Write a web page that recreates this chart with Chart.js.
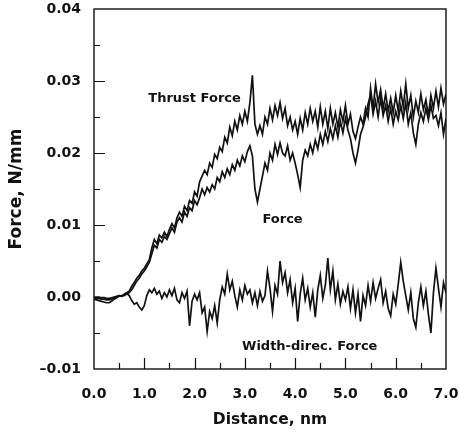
<!DOCTYPE html>
<html>
<head>
<meta charset="utf-8">
<script src="https://cdn.jsdelivr.net/npm/chart.js@4.4.1/dist/chart.umd.min.js"></script>
<style>
  html, body { margin: 0; padding: 0; background: #fff; }
  #wrap { width: 459px; height: 432px; position: relative; }
</style>
</head>
<body>
<div id="wrap"><canvas id="forceChart"></canvas></div>
<script>
// distance, nm (sampled every 0.05)
const distance = [
  0.00, 0.05, 0.10, 0.15, 0.20, 0.25, 0.30, 0.35, 0.40, 0.45,
  0.50, 0.55, 0.60, 0.65, 0.70, 0.75, 0.80, 0.85, 0.90, 0.95,
  1.00, 1.05, 1.10, 1.15, 1.20, 1.25, 1.30, 1.35, 1.40, 1.45,
  1.50, 1.55, 1.60, 1.65, 1.70, 1.75, 1.80, 1.85, 1.90, 1.95,
  2.00, 2.05, 2.10, 2.15, 2.20, 2.25, 2.30, 2.35, 2.40, 2.45,
  2.50, 2.55, 2.60, 2.65, 2.70, 2.75, 2.80, 2.85, 2.90, 2.95,
  3.00, 3.05, 3.10, 3.15, 3.20, 3.25, 3.30, 3.35, 3.40, 3.45,
  3.50, 3.55, 3.60, 3.65, 3.70, 3.75, 3.80, 3.85, 3.90, 3.95,
  4.00, 4.05, 4.10, 4.15, 4.20, 4.25, 4.30, 4.35, 4.40, 4.45,
  4.50, 4.55, 4.60, 4.65, 4.70, 4.75, 4.80, 4.85, 4.90, 4.95,
  5.00, 5.05, 5.10, 5.15, 5.20, 5.25, 5.30, 5.35, 5.40, 5.45,
  5.50, 5.55, 5.60, 5.65, 5.70, 5.75, 5.80, 5.85, 5.90, 5.95,
  6.00, 6.05, 6.10, 6.15, 6.20, 6.25, 6.30, 6.35, 6.40, 6.45,
  6.50, 6.55, 6.60, 6.65, 6.70, 6.75, 6.80, 6.85, 6.90, 6.95,
  7.00
];

const thrustForce = [
  -0.0001, -0.0002, -0.0002, -0.0003, -0.0003, -0.0004, -0.0004, -0.0003, -0.0001, 0.0000,
  0.0002, 0.0001, 0.0004, 0.0006, 0.0008, 0.0015, 0.0020, 0.0026, 0.0030, 0.0036,
  0.0040, 0.0046, 0.0052, 0.0068, 0.0080, 0.0074, 0.0086, 0.0082, 0.0090, 0.0084,
  0.0094, 0.0102, 0.0096, 0.0110, 0.0118, 0.0112, 0.0126, 0.0120, 0.0134, 0.0130,
  0.0146, 0.0140, 0.0160, 0.0168, 0.0176, 0.0170, 0.0186, 0.0180, 0.0198, 0.0192,
  0.0208, 0.0202, 0.0222, 0.0214, 0.0236, 0.0224, 0.0244, 0.0232, 0.0252, 0.0240,
  0.0258, 0.0244, 0.0270, 0.0308, 0.0240, 0.0226, 0.0238, 0.0226, 0.0250, 0.0240,
  0.0262, 0.0246, 0.0266, 0.0252, 0.0270, 0.0248, 0.0262, 0.0238, 0.0250, 0.0232,
  0.0244, 0.0226, 0.0248, 0.0232, 0.0256, 0.0240, 0.0262, 0.0244, 0.0258, 0.0236,
  0.0264, 0.0240, 0.0258, 0.0234, 0.0262, 0.0240, 0.0256, 0.0236, 0.0260, 0.0244,
  0.0266, 0.0240, 0.0254, 0.0230, 0.0220, 0.0236, 0.0250, 0.0240, 0.0262, 0.0250,
  0.0290, 0.0262, 0.0296, 0.0270, 0.0288, 0.0262, 0.0282, 0.0258, 0.0276, 0.0256,
  0.0280, 0.0258, 0.0286, 0.0264, 0.0296, 0.0262, 0.0280, 0.0250, 0.0272, 0.0256,
  0.0282, 0.0260, 0.0274, 0.0252, 0.0280, 0.0262, 0.0286, 0.0264, 0.0290, 0.0268,
  0.0282
];

const force = [
  -0.0003, -0.0004, -0.0005, -0.0006, -0.0007, -0.0008, -0.0008, -0.0006, -0.0003, -0.0001,
  0.0001, 0.0002, 0.0002, 0.0004, 0.0006, 0.0010, 0.0016, 0.0022, 0.0026, 0.0032,
  0.0036, 0.0042, 0.0048, 0.0060, 0.0072, 0.0068, 0.0080, 0.0076, 0.0084, 0.0080,
  0.0088, 0.0096, 0.0090, 0.0104, 0.0110, 0.0104, 0.0118, 0.0112, 0.0124, 0.0120,
  0.0134, 0.0128, 0.0138, 0.0150, 0.0142, 0.0152, 0.0146, 0.0156, 0.0150, 0.0166,
  0.0160, 0.0174, 0.0166, 0.0178, 0.0170, 0.0184, 0.0176, 0.0190, 0.0182, 0.0196,
  0.0188, 0.0202, 0.0210, 0.0196, 0.0150, 0.0132, 0.0150, 0.0168, 0.0186, 0.0176,
  0.0200, 0.0190, 0.0212, 0.0198, 0.0214, 0.0200, 0.0196, 0.0210, 0.0190, 0.0200,
  0.0186, 0.0170, 0.0152, 0.0190, 0.0204, 0.0196, 0.0212, 0.0200, 0.0218, 0.0206,
  0.0226, 0.0212, 0.0230, 0.0216, 0.0234, 0.0220, 0.0238, 0.0222, 0.0244, 0.0228,
  0.0248, 0.0232, 0.0220, 0.0200, 0.0186, 0.0204, 0.0226, 0.0236, 0.0250, 0.0268,
  0.0280, 0.0254, 0.0272, 0.0250, 0.0276, 0.0252, 0.0266, 0.0244, 0.0262, 0.0240,
  0.0258, 0.0246, 0.0266, 0.0248, 0.0270, 0.0240, 0.0256, 0.0228, 0.0212, 0.0240,
  0.0256, 0.0244, 0.0262, 0.0246, 0.0266, 0.0248, 0.0252, 0.0238, 0.0256, 0.0226,
  0.0248
];

const widthForce = [
  0.0000, 0.0000, 0.0000, -0.0001, -0.0001, -0.0002, -0.0002, -0.0001, 0.0000, 0.0001,
  0.0002, 0.0001, 0.0003, 0.0005, 0.0002, -0.0005, -0.0010, -0.0008, -0.0014, -0.0018,
  -0.0012, 0.0002, 0.0010, 0.0006, 0.0012, 0.0004, 0.0008, -0.0002, 0.0006, 0.0000,
  0.0010, 0.0002, 0.0012, -0.0004, -0.0008, 0.0006, -0.0002, 0.0008, -0.0040, -0.0006,
  0.0004, -0.0004, 0.0006, -0.0022, -0.0014, -0.0048, -0.0020, -0.0030, -0.0012, -0.0036,
  -0.0004, 0.0014, 0.0004, 0.0032, 0.0010, 0.0022, 0.0002, -0.0014, 0.0010, -0.0004,
  0.0016, 0.0004, 0.0010, -0.0008, 0.0006, -0.0012, 0.0008, -0.0006, 0.0002, 0.0036,
  0.0012, -0.0020, 0.0016, 0.0004, 0.0050, 0.0020, 0.0034, 0.0006, 0.0024, -0.0008,
  0.0012, -0.0034, 0.0004, 0.0026, -0.0004, 0.0012, -0.0014, 0.0006, -0.0028, 0.0010,
  0.0030, -0.0002, 0.0016, 0.0054, 0.0010, 0.0036, -0.0004, 0.0018, -0.0010, 0.0008,
  -0.0004, 0.0014, -0.0016, 0.0010, -0.0022, 0.0004, -0.0034, 0.0002, -0.0012, 0.0016,
  -0.0006, 0.0020, -0.0002, 0.0012, 0.0024, -0.0008, 0.0008, -0.0016, -0.0026, 0.0004,
  -0.0010, 0.0018, 0.0048, 0.0022, 0.0002, -0.0018, 0.0006, -0.0030, -0.0042, -0.0008,
  0.0014, -0.0012, 0.0008, -0.0024, -0.0050, 0.0006, 0.0040, 0.0012, -0.0014, 0.0020,
  0.0006
];

// curve labels, placed in data coordinates
const curveLabels = [
  { text: "Thrust Force", x: 2.0, y: 0.0276 },
  { text: "Force", x: 3.75, y: 0.0107 },
  { text: "Width-direc. Force", x: 4.29, y: -0.0069 },
];

const FONT = "'DejaVu Sans', Verdana, sans-serif";
const INK = "#111";

function toPoints(ys) {
    return distance.map((d, i) => ({ x: d, y: ys[i] }));
}

// frame, inward major/minor ticks and curve labels
const framePlugin = {
    id: "frame",
    afterDatasetsDraw(chart) {
        const { ctx, chartArea: a, scales: { x, y } } = chart;
        ctx.save();
        ctx.strokeStyle = INK;
        ctx.lineWidth = 1.4;
        ctx.strokeRect(a.left, a.top, a.right - a.left, a.bottom - a.top);

        ctx.lineWidth = 1.2;
        ctx.beginPath();
        const xs = x.ticks.map(t => t.value);
        xs.forEach((v, i) => {
            const px = Math.round(x.getPixelForValue(v)) + 0.5;
            if (i > 0 && i < xs.length - 1) {
                ctx.moveTo(px, a.bottom);
                ctx.lineTo(px, a.bottom - 11);
            }
            if (i < xs.length - 1) {
                const pm = Math.round(x.getPixelForValue(v + 0.5)) + 0.5;
                ctx.moveTo(pm, a.bottom);
                ctx.lineTo(pm, a.bottom - 6);
            }
        });
        const ys = y.ticks.map(t => t.value);
        ys.forEach((v, i) => {
            const py = Math.round(y.getPixelForValue(v)) + 0.5;
            if (i > 0 && i < ys.length - 1) {
                ctx.moveTo(a.left, py);
                ctx.lineTo(a.left + 11, py);
            }
            if (i < ys.length - 1) {
                const pm = Math.round(y.getPixelForValue(v + 0.005)) + 0.5;
                ctx.moveTo(a.left, pm);
                ctx.lineTo(a.left + 6, pm);
            }
        });
        ctx.stroke();

        ctx.fillStyle = INK;
        ctx.font = `bold 13px ${FONT}`;
        ctx.textAlign = "center";
        ctx.textBaseline = "middle";
        curveLabels.forEach(l => {
            ctx.fillText(l.text, x.getPixelForValue(l.x), y.getPixelForValue(l.y));
        });
        ctx.restore();
    },
};

function drawForceChart() {
    const ctx = document.getElementById("forceChart").getContext("2d");
    const line = {
        borderColor: INK,
        borderWidth: 1.7,
        pointRadius: 0,
        tension: 0,
        fill: false,
    };

    new Chart(ctx, {
        type: "line",
        data: {
            datasets: [
                { label: "Thrust Force", data: toPoints(thrustForce), ...line },
                { label: "Force", data: toPoints(force), ...line },
                { label: "Width-direc. Force", data: toPoints(widthForce), ...line },
            ],
        },
        options: {
            responsive: true,
            maintainAspectRatio: false,
            animation: false,
            layout: { padding: { left: 0, right: 13, top: 9, bottom: 0 } },
            plugins: { legend: { display: false }, tooltip: { enabled: false } },
            scales: {
                x: {
                    type: "linear",
                    min: 0,
                    max: 7,
                    afterFit: s => { s.height = 63; s.paddingLeft = 0; s.paddingRight = 0; },
                    grid: { display: false },
                    border: { display: false },
                    ticks: {
                        stepSize: 1,
                        padding: 9,
                        color: INK,
                        font: { family: FONT, size: 14, weight: "bold" },
                        callback: v => Number(v).toFixed(1),
                    },
                    title: {
                        display: true,
                        text: "Distance, nm",
                        color: INK,
                        padding: { top: 0, bottom: 3 },
                        font: { family: FONT, size: 15.5, weight: "bold" },
                    },
                },
                y: {
                    min: -0.01,
                    max: 0.04,
                    afterFit: s => { s.width = 94; s.paddingTop = 0; s.paddingBottom = 0; },
                    grid: { display: false },
                    border: { display: false },
                    ticks: {
                        stepSize: 0.01,
                        padding: 5,
                        color: INK,
                        font: { family: FONT, size: 14, weight: "bold" },
                        callback: v => Number(v).toFixed(2).replace("-", "\u2013"),
                    },
                    title: {
                        display: true,
                        text: "Force, N/mm",
                        color: INK,
                        padding: { top: 6, bottom: 0 },
                        font: { family: FONT, size: 17, weight: "bold" },
                    },
                },
            },
        },
        plugins: [framePlugin],
    });
}

drawForceChart();
</script>
</body>
</html>
